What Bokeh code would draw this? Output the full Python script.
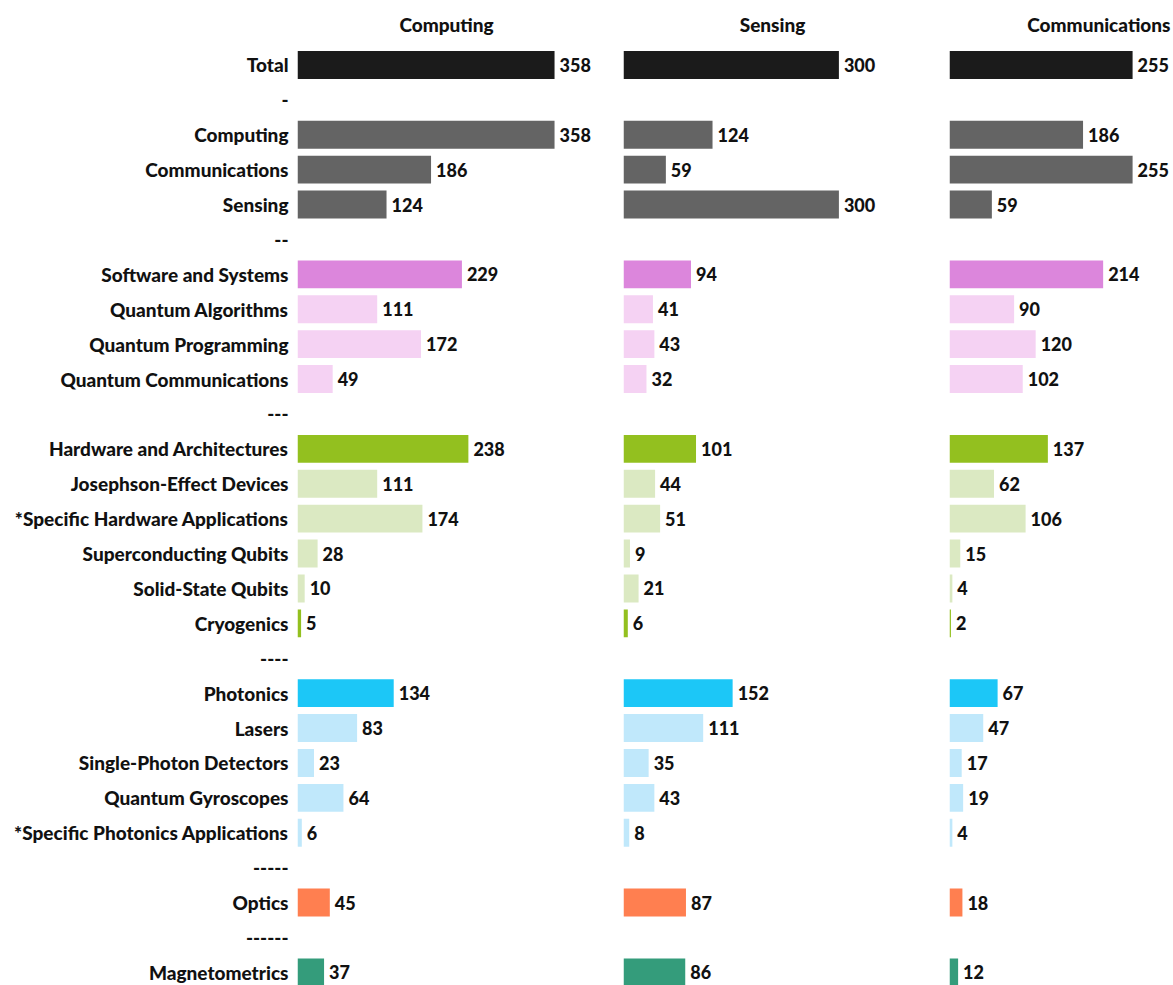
from bokeh.plotting import figure
from bokeh.models import ColumnDataSource, Range1d, FixedTicker
from bokeh.layouts import row
from bokeh.embed import file_html
from bokeh.resources import INLINE
from bokeh.core.properties import value

categories = [
    "Total", "-", "Computing", "Communications", "Sensing", "--",
    "Software and Systems", "Quantum Algorithms", "Quantum Programming",
    "Quantum Communications", "---", "Hardware and Architectures",
    "Josephson-Effect Devices", "*Specific Hardware Applications",
    "Superconducting Qubits", "Solid-State Qubits", "Cryogenics", "----",
    "Photonics", "Lasers", "Single-Photon Detectors", "Quantum Gyroscopes",
    "*Specific Photonics Applications", "-----", "Optics", "------",
    "Magnetometrics",
]
computing = [358, None, 358, 186, 124, None, 229, 111, 172, 49, None,
             238, 111, 174, 28, 10, 5, None, 134, 83, 23, 64, 6, None,
             45, None, 37]
sensing = [300, None, 124, 59, 300, None, 94, 41, 43, 32, None,
           101, 44, 51, 9, 21, 6, None, 152, 111, 35, 43, 8, None,
           87, None, 86]
communications = [255, None, 186, 255, 59, None, 214, 90, 120, 102, None,
                  137, 62, 106, 15, 4, 2, None, 67, 47, 17, 19, 4, None,
                  18, None, 12]
row_colors = [
    "#1b1b1b", None, "#646464", "#646464", "#646464", None,
    "#dc86dc", "#f5d2f3", "#f5d2f3", "#f5d2f3", None,
    "#93c01f", "#dbe9c2", "#dbe9c2", "#dbe9c2", "#dbe9c2", "#93c01f", None,
    "#1cc7f7", "#c0e8fb", "#c0e8fb", "#c0e8fb", "#c0e8fb", None,
    "#ff7f50", None, "#349c7b",
]
panel_titles = ["Computing", "Sensing", "Communications"]
panel_values = [computing, sensing, communications]

FONT = "'Lato Black', Lato"
PITCH = 34.9        # px per row
H = 985
TOP = 47
PX_PER_UNIT = 0.718
frame_h = H - TOP
y_top = -0.5
y_bottom = -0.5 + frame_h / PITCH

# (width, min_border_left, min_border_right, frame width)
geoms = [(623, 297, 28, 298), (326, 0, 28, 298), (224, 0, 0, 224)]
aligns = ["center", "center", "right"]

figs = []
for k, (ttl, vals) in enumerate(zip(panel_titles, panel_values)):
    width, bl, br, fw = geoms[k]
    ys = [i for i, v in enumerate(vals) if v is not None]
    src = ColumnDataSource(dict(
        y=ys,
        v=[vals[i] for i in ys],
        t=[str(vals[i]) for i in ys],
        c=[row_colors[i] for i in ys],
    ))
    p = figure(
        width=width, height=H, title=ttl,
        x_range=Range1d(0, fw / PX_PER_UNIT),
        y_range=Range1d(y_bottom, y_top),
        x_axis_location=None,
        y_axis_location="left" if k == 0 else None,
        output_backend="svg", toolbar_location=None,
        min_border_left=bl, min_border_right=br,
        min_border_top=TOP, min_border_bottom=0,
    )
    p.title.align = aligns[k]
    p.title.vertical_align = "top"
    p.title.offset = 3 if k == 2 else 0
    p.title.text_font = FONT
    p.title.text_font_style = "bold"
    p.title.text_font_size = "19px"
    p.title.text_color = "#111111"
    p.title.standoff = 20
    p.xgrid.visible = False
    p.ygrid.visible = False
    p.outline_line_color = None
    p.background_fill_color = "white"
    p.border_fill_color = "white"

    p.hbar(y="y", right="v", left=0, height=0.8, fill_color="c",
           line_color=None, source=src)
    p.text(x="v", y="y", text="t", x_offset=5, text_baseline="middle",
           text_align="left", text_font=value(FONT), text_font_style="bold",
           text_font_size="18px", text_color="#111111", source=src)

    if k == 0:
        ax = p.yaxis[0]
        ax.ticker = FixedTicker(ticks=list(range(len(categories))))
        ax.major_label_overrides = {i: lab for i, lab in enumerate(categories)}
        ax.axis_line_color = None
        ax.major_tick_line_color = None
        ax.minor_tick_line_color = None
        ax.major_tick_out = 0
        ax.major_tick_in = 0
        ax.major_label_standoff = 9
        ax.major_label_text_font = FONT
        ax.major_label_text_font_style = "bold"
        ax.major_label_text_font_size = "19px"
        ax.major_label_text_color = "#111111"
    figs.append(p)

layout = row(*figs)
open("out.html", "w").write(file_html(layout, INLINE))
